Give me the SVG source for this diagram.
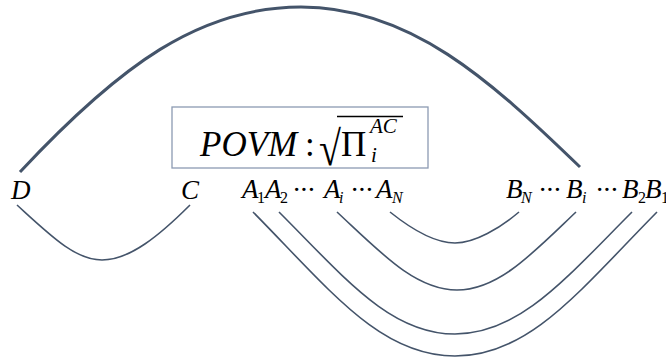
<svg xmlns="http://www.w3.org/2000/svg" width="666" height="357" viewBox="0 0 666 357">
<style>
.lbl{font-family:"Liberation Serif","Times New Roman",serif;font-style:italic;font-size:27px;fill:#000}
.sub{font-family:"Liberation Serif","Times New Roman",serif;font-size:16px;fill:#000}
.subi{font-family:"Liberation Serif","Times New Roman",serif;font-style:italic;font-size:16px;fill:#000}
.dots{font-family:"Liberation Serif","Times New Roman",serif;font-size:28px;fill:#000}
.math{font-family:"Liberation Serif","Times New Roman",serif;font-size:35px;fill:#000}
.thin{fill:none;stroke:#44546A;stroke-width:1.6}
.thick{fill:none;stroke:#44546A;stroke-width:3}
</style>
<rect width="666" height="357" fill="#fff"/>
<g id="connectors">
<path class="thick" d="M20,172 C120,65 200,7 301,7 C410,7 490,80 580,167"/>
<path class="thin" d="M17,205 C50,235 75,260 102,260 C130,260 160,235 190,205"/>
<path class="thin" d="M253,212 C330,290 380,356 455,356 C530,356 580,290 657,212"/>
<path class="thin" d="M279,212 C345,278 390,334 455,334 C520,334 566,278 632,212"/>
<path class="thin" d="M337,212 C380,252 415,290 457,290 C499,290 534,252 576,212"/>
<path class="thin" d="M390,212 C410,228 435,243 455,243 C475,243 500,228 519,212"/>
</g>
<g id="povm">
<rect x="172" y="107" width="256" height="61" fill="#fff" stroke="#8C9AB2" stroke-width="1.3"/>
<text class="math" x="200" y="156" font-style="italic">POVM</text>
<text class="math" x="305" y="156">:</text>
<text class="math" transform="translate(319,165) scale(1,1.22)" x="0" y="0" style="font-size:40px">√</text>
<line x1="337" y1="116.5" x2="403" y2="116.5" stroke="#000" stroke-width="1.4"/>
<text class="math" x="341" y="156">Π</text>
<text class="math" x="370" y="133" font-style="italic" style="font-size:21px">AC</text>
<text class="math" x="371" y="162" font-style="italic" style="font-size:21px">i</text>
</g>
<g id="D"><text class="lbl" x="11" y="199">D</text></g>
<g id="C"><text class="lbl" x="181" y="199">C</text></g>
<g id="A">
<text class="lbl" x="242" y="198">A</text><text class="sub" x="257" y="203">1</text>
<text class="lbl" x="265" y="198">A</text><text class="sub" x="280" y="203">2</text>
<text class="dots" x="292" y="199" textLength="24">···</text>
<text class="lbl" x="324" y="198">A</text><text class="subi" x="339" y="203">i</text>
<text class="dots" x="350" y="199" textLength="24">···</text>
<text class="lbl" x="376" y="198">A</text><text class="subi" x="392" y="203">N</text>
</g>
<g id="B">
<text class="lbl" x="506" y="198">B</text><text class="subi" x="521" y="203">N</text>
<text class="dots" x="538" y="199" textLength="24">···</text>
<text class="lbl" x="566" y="198">B</text><text class="subi" x="582" y="203">i</text>
<text class="dots" x="595" y="199" textLength="24">···</text>
<text class="lbl" x="622" y="198">B</text><text class="sub" x="638" y="203">2</text>
<text class="lbl" x="645" y="198">B</text><text class="sub" x="661" y="203">1</text>
</g>
</svg>
